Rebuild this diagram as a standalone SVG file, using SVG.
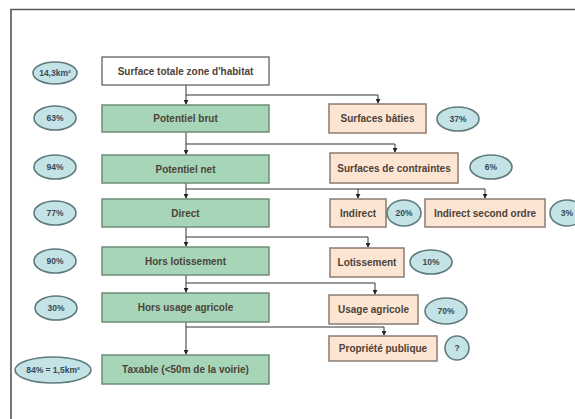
<svg xmlns="http://www.w3.org/2000/svg" width="575" height="419" viewBox="0 0 575 419">
<defs>
<marker id="arr" viewBox="0 0 6 6" refX="5" refY="3" markerWidth="5" markerHeight="5" orient="auto" markerUnits="userSpaceOnUse">
<path d="M0,0 L6,3 L0,6 Z" fill="#222"/>
</marker>
<style>
.main{fill:#ffffff;stroke:#555;stroke-width:1.2}
.green{fill:#a6d6b7;stroke:#6e8c78;stroke-width:1.5}
.peach{fill:#fce6d3;stroke:#8c7b70;stroke-width:1.5}
.ell{fill:#c3e3e6;stroke:#5f7a7c;stroke-width:1.6}
.t{font-family:"Liberation Sans",Arial,sans-serif;font-size:10px;font-weight:bold;fill:#4d4239;text-anchor:middle;dominant-baseline:central}
.e{font-family:"Liberation Sans",Arial,sans-serif;font-size:8.5px;font-weight:bold;fill:#3a4a55;text-anchor:middle;dominant-baseline:central}
.c{fill:none;stroke:#333;stroke-width:1}
</style>
</defs>
<rect x="0" y="0" width="575" height="419" fill="#ffffff"/>
<path d="M11,419 L11,9.5 L575,9.5" fill="none" stroke="#555" stroke-width="1.6"/>

<g id="connectors">
<path class="c" d="M186,85 L186,104" marker-end="url(#arr)"/>
<path class="c" d="M186,95 L378,95 L378,103" marker-end="url(#arr)"/>
<path class="c" d="M186,132 L186,154" marker-end="url(#arr)"/>
<path class="c" d="M186,144 L395,144 L395,152" marker-end="url(#arr)"/>
<path class="c" d="M186,183 L186,198" marker-end="url(#arr)"/>
<path class="c" d="M186,189 L485,189 L485,198" marker-end="url(#arr)"/>
<path class="c" d="M358,189 L358,198" marker-end="url(#arr)"/>
<path class="c" d="M186,227 L186,246" marker-end="url(#arr)"/>
<path class="c" d="M186,237 L368,237 L368,247" marker-end="url(#arr)"/>
<path class="c" d="M186,275 L186,292" marker-end="url(#arr)"/>
<path class="c" d="M186,283 L375,283 L375,294" marker-end="url(#arr)"/>
<path class="c" d="M186,322 L186,354" marker-end="url(#arr)"/>
<path class="c" d="M186,327 L384,327 L384,335" marker-end="url(#arr)"/>
</g>

<g id="n-surface"><rect class="main" x="102" y="57" width="167" height="28"/><text class="t" x="185.5" y="71">Surface totale zone d'habitat</text></g>
<g id="n-brut"><rect class="green" x="102" y="105" width="167" height="27"/><text class="t" x="185.5" y="118.5">Potentiel brut</text></g>
<g id="n-net"><rect class="green" x="102" y="155" width="167" height="28"/><text class="t" x="185.5" y="169">Potentiel net</text></g>
<g id="n-direct"><rect class="green" x="102" y="199" width="167" height="28"/><text class="t" x="185.5" y="213">Direct</text></g>
<g id="n-horslot"><rect class="green" x="102" y="247" width="167" height="28"/><text class="t" x="185.5" y="261">Hors lotissement</text></g>
<g id="n-horsagr"><rect class="green" x="102" y="293" width="167" height="29"/><text class="t" x="185.5" y="307.5">Hors usage agricole</text></g>
<g id="n-taxable"><rect class="green" x="102" y="355" width="167" height="29"/><text class="t" x="185.5" y="369.5">Taxable (&lt;50m de la voirie)</text></g>

<g id="n-baties"><rect class="peach" x="329" y="104" width="97" height="29"/><text class="t" x="377.5" y="118.5">Surfaces bâties</text></g>
<g id="n-contraintes"><rect class="peach" x="330" y="153" width="128" height="30"/><text class="t" x="394" y="168">Surfaces de contraintes</text></g>
<g id="n-indirect"><rect class="peach" x="330" y="199" width="56" height="28"/><text class="t" x="358" y="213">Indirect</text></g>
<g id="n-indirect2"><rect class="peach" x="425" y="199" width="120" height="28"/><text class="t" x="485" y="213">Indirect second ordre</text></g>
<g id="n-lot"><rect class="peach" x="330" y="248" width="74" height="29"/><text class="t" x="367" y="262.5">Lotissement</text></g>
<g id="n-usage"><rect class="peach" x="329" y="295" width="89" height="29"/><text class="t" x="373.5" y="309.5">Usage agricole</text></g>
<g id="n-prop"><rect class="peach" x="329" y="336" width="108" height="25"/><text class="t" x="383" y="348.5">Propriété publique</text></g>

<g id="e-143"><ellipse class="ell" cx="55" cy="73" rx="22" ry="11"/><text class="e" x="55" y="73">14,3km²</text></g>
<g id="e-63"><ellipse class="ell" cx="55" cy="118" rx="21" ry="12"/><text class="e" x="55" y="118">63%</text></g>
<g id="e-94"><ellipse class="ell" cx="55" cy="167" rx="21" ry="12"/><text class="e" x="55" y="167">94%</text></g>
<g id="e-77"><ellipse class="ell" cx="55" cy="213" rx="21" ry="12"/><text class="e" x="55" y="213">77%</text></g>
<g id="e-90"><ellipse class="ell" cx="55" cy="261" rx="21" ry="12"/><text class="e" x="55" y="261">90%</text></g>
<g id="e-30"><ellipse class="ell" cx="56" cy="308" rx="21" ry="12"/><text class="e" x="56" y="308">30%</text></g>
<g id="e-84"><ellipse class="ell" cx="53" cy="370" rx="38" ry="13"/><text class="e" x="53" y="370">84% = 1,5km²</text></g>
<g id="e-37"><ellipse class="ell" cx="458" cy="119" rx="21" ry="12"/><text class="e" x="458" y="119">37%</text></g>
<g id="e-6"><ellipse class="ell" cx="491" cy="167" rx="21" ry="12"/><text class="e" x="491" y="167">6%</text></g>
<g id="e-20"><ellipse class="ell" cx="404" cy="213" rx="17" ry="13"/><text class="e" x="404" y="213">20%</text></g>
<g id="e-3"><ellipse class="ell" cx="567" cy="213" rx="17" ry="13"/><text class="e" x="567" y="213">3%</text></g>
<g id="e-10"><ellipse class="ell" cx="431" cy="262" rx="21" ry="12"/><text class="e" x="431" y="262">10%</text></g>
<g id="e-70"><ellipse class="ell" cx="446" cy="311" rx="21" ry="13"/><text class="e" x="446" y="311">70%</text></g>
<g id="e-q"><ellipse class="ell" cx="457" cy="348" rx="12" ry="12"/><text class="e" x="457" y="348">?</text></g>
</svg>
